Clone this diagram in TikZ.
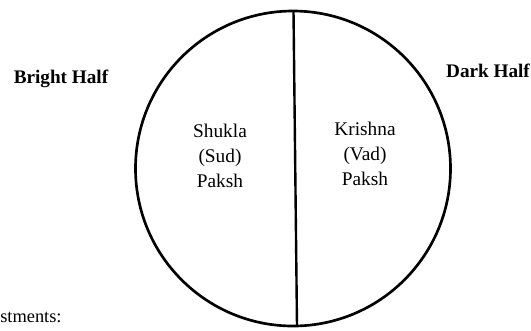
\documentclass[tikz,border=0pt]{standalone}
\usepackage{fontspec}
\setmainfont{Liberation Serif}
\begin{document}
\begin{tikzpicture}[x=0.75pt,y=-0.75pt,
  outer/.style={font=\fontsize{14.4}{17}\selectfont\bfseries, anchor=base, inner sep=0pt},
  inner/.style={font=\fontsize{14.5}{18.75}\selectfont, anchor=base, align=center, inner sep=0pt},
  plain/.style={font=\fontsize{13.8}{17}\selectfont, anchor=base west, inner sep=0pt}]
\useasboundingbox (0,0) rectangle (531,330);
\node[draw, line width=2pt, circle, minimum size=315pt*0.75, inner sep=0pt] (c) at (293,168.5) {};
\coordinate (top) at (293.5,11);
\coordinate (bot) at (297,326);
\draw[line width=1.8pt] (top) -- (bot);
\node[outer] (bright) at (61,83) {Bright Half};
\node[outer] (dark) at (488,77) {Dark Half};
\node[inner] (shukla) at (220,187) {Shukla\\(Sud)\\Paksh};
\node[inner] (krishna) at (365,185) {Krishna\\(Vad)\\Paksh};
\node[plain] (adj) at (0,322) {stments:};
\end{tikzpicture}
\end{document}
